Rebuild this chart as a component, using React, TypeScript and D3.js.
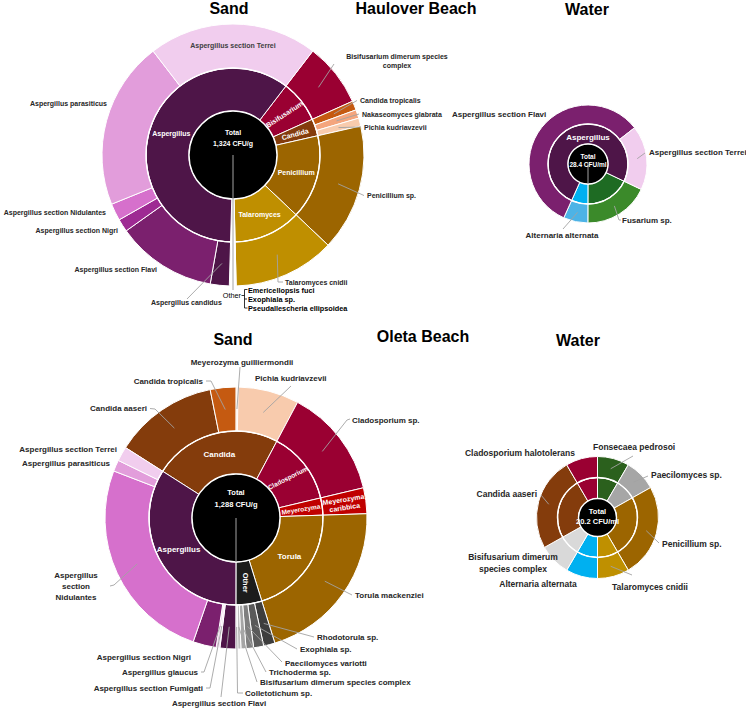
import React from "react";
import * as d3 from "d3";

const FONT = "'Liberation Sans', Arial, sans-serif";
const TAU = Math.PI * 2;

// ---------- Haulover Beach, sand (CFU/g) ----------
const hsGenera = ["Bisifusarium", "Candida", "Penicillium", "Talaromyces", "Other", "Aspergillus"];
const hsSpecies = [
  "Bisifusarium dimerum species complex",
  "Candida tropicalis",
  "Nakaseomyces glabrata",
  "Pichia kudriavzevii",
  "Penicillium sp.",
  "Talaromyces cnidii",
  "Emericellopsis fuci",
  "Exophiala sp.",
  "Pseudallescheria ellipsoidea",
  "Aspergillus candidus",
  "Aspergillus section Flavi",
  "Aspergillus section Nigri",
  "Aspergillus section Nidulantes",
  "Aspergillus parasiticus",
  "Aspergillus section Terrei",
];
const hsGenusOf = [
  "Bisifusarium", "Candida", "Candida", "Candida", "Penicillium", "Talaromyces",
  "Other", "Other", "Other",
  "Aspergillus", "Aspergillus", "Aspergillus", "Aspergillus", "Aspergillus", "Aspergillus",
];
const hsValues = [104, 15, 14, 13, 207, 166, 4, 4, 3, 31, 164, 21, 28, 274, 276];
const hsTotal = ["Total", "1,324 CFU/g"];

// ---------- Haulover Beach, water (CFU/ml) ----------
const hwGenera = ["Fusarium", "Alternaria", "Aspergillus"];
const hwSpecies = ["Fusarium sp.", "Alternaria alternata", "Aspergillus section Flavi", "Aspergillus section Terrei"];
const hwGenusOf = ["Fusarium", "Alternaria", "Aspergillus", "Aspergillus"];
const hwValues = [5.1, 1.9, 16.4, 5.0];
const hwTotal = ["Total", "28.4 CFU/ml"];

// ---------- Oleta Beach, sand (CFU/g) ----------
const osGenera = ["Candida", "Cladosporium", "Meyerozyma", "Torula", "Other", "Aspergillus"];
const osSpecies = [
  "Candida aaseri",
  "Candida tropicalis",
  "Meyerozyma guilliermondii",
  "Pichia kudriavzevii",
  "Cladosporium sp.",
  "Meyerozyma caribbica",
  "Torula mackenziei",
  "Rhodotorula sp.",
  "Exophiala sp.",
  "Paecilomyces variotti",
  "Trichoderma sp.",
  "Bisifusarium dimerum species complex",
  "Colletotichum sp.",
  "Aspergillus section Flavi",
  "Aspergillus section Fumigati",
  "Aspergillus glaucus",
  "Aspergillus section Nigri",
  "Aspergillus section Nidulantes",
  "Aspergillus parasiticus",
  "Aspergillus section Terrei",
];
const osGenusOf = [
  "Candida", "Candida", "Candida", "Candida", "Cladosporium", "Meyerozyma", "Torula",
  "Other", "Other", "Other", "Other", "Other", "Other",
  "Aspergillus", "Aspergillus", "Aspergillus", "Aspergillus", "Aspergillus", "Aspergillus", "Aspergillus",
];
const osValues = [165, 41, 3, 97, 174, 41, 267, 18, 16, 12, 8, 5, 3, 25, 3, 3, 37, 329, 18, 23];
const osTotal = ["Total", "1,288 CFU/g"];

// ---------- Oleta Beach, water (CFU/ml) ----------
const owGenera = ["Fonsecaea", "Paecilomyces", "Penicillium", "Talaromyces", "Alternaria", "Bisifusarium", "Candida", "Cladosporium"];
const owSpecies = [
  "Fonsecaea pedrosoi",
  "Paecilomyces sp.",
  "Penicillium sp.",
  "Talaromyces cnidii",
  "Alternaria alternata",
  "Bisifusarium dimerum species complex",
  "Candida aaseri",
  "Cladosporium halotolerans",
];
const owGenusOf = owGenera;
const owValues = [1.7, 1.7, 5.0, 1.7, 1.7, 1.7, 5.0, 1.7];
const owTotal = ["Total", "20.2 CFU/ml"];

// ---------- colours ----------
const PLUM = "#4e1548";
const hsGenusColors = ["#9a0032", "#843c0c", "#9c6500", "#bf8f00", "#ffffff", PLUM];
const hsSpeciesColors = [
  "#9a0032", "#c55a11", "#f4a57d", "#f8cbad", "#9c6500", "#bf8f00",
  "#ffffff", "#ffffff", "#ffffff",
  PLUM, "#7b206e", "#9e2a93", "#d670cc", "#e29ddb", "#f1cdee",
];
const hwGenusColors = ["#1e6b23", "#00b0f0", PLUM];
const hwSpeciesColors = ["#3b8a2a", "#4db3e6", "#7b206e", "#f1cdee"];
const osGenusColors = ["#843c0c", "#9a0032", "#c00000", "#9c6500", "#1c1c1c", PLUM];
const osSpeciesColors = [
  "#843c0c", "#c55a11", "#fbe5d6", "#f8cbad", "#9a0032", "#c00000", "#9c6500",
  "#3d3d3d", "#5a5a5a", "#7f7f7f", "#a6a6a6", "#bfbfbf", "#d9d9d9",
  PLUM, "#f3dcef", "#e7b8e0", "#7b206e", "#d670cc", "#e29ddb", "#f1cdee",
];
const owColors = ["#2b601d", "#a6a6a6", "#9c6500", "#bf9000", "#00b0f0", "#d9d9d9", "#843c0c", "#9a0032"];

type Pt = [number, number];
type Label = { key: string; lines?: string[]; x: number; y: number; anchor?: string; leader?: Pt[] };
type InLabel = { key: string; ring: "in" | "out"; lines?: string[]; rot?: number; size?: number; fill?: string; angle?: number; r?: number };

type SunProps = {
  cx: number; cy: number; r0: number; r1: number; r2: number; start: number;
  genera: string[]; species: string[]; genusOf: string[]; values: number[];
  genusColors: string[]; speciesColors: string[];
  labels: Label[]; inLabels: InLabel[]; fs: number;
  total: string[]; totalY: number[]; totalSize: number; stem?: number;
};

const LEADER = "#a3a3a3";
const INK = "#262626";

function Sunburst(p: SunProps) {
  const { cx, cy, r0, r1, r2 } = p;
  const a0 = (p.start * Math.PI) / 180;
  const pie = d3.pie<number>().sort(null).value((d) => d).startAngle(a0).endAngle(a0 + TAU);
  const outer = pie(p.values);
  const sums = p.genera.map((g) => d3.sum(p.values.filter((_, i) => p.genusOf[i] === g)));
  const inner = pie(sums);
  const arcIn = d3.arc<d3.PieArcDatum<number>>().innerRadius(r0).outerRadius(r1);
  const arcOut = d3.arc<d3.PieArcDatum<number>>().innerRadius(r1).outerRadius(r2);
  const line = d3.line();

  const outCentroid = (key: string): Pt => {
    const c = arcOut.centroid(outer[p.species.indexOf(key)]);
    return [cx + c[0], cy + c[1]];
  };

  return (
    <g>
      <g transform={`translate(${cx},${cy})`}>
        {inner.map((d, i) => (
          <path key={"i" + i} d={arcIn(d) || ""} fill={p.genusColors[i]} stroke="#fff" strokeWidth={1} />
        ))}
        {outer.map((d, i) => (
          <path key={"o" + i} d={arcOut(d) || ""} fill={p.speciesColors[i]} stroke="#fff" strokeWidth={1} />
        ))}
        <circle r={r1} fill="none" stroke="#fff" strokeWidth={1.4} />
        <circle r={r0} fill="#000" stroke="#fff" strokeWidth={1.4} />
        {p.stem !== undefined && <line x1={0} y1={0} x2={0} y2={p.stem - cy} stroke={LEADER} strokeWidth={1} />}
        {p.total.map((t, i) => (
          <text key={t} x={0} y={p.totalY[i]} textAnchor="middle" fill="#fff" fontWeight={700} fontSize={p.totalSize}>
            {t}
          </text>
        ))}
        {p.inLabels.map((l) => {
          const d = l.ring === "in" ? inner[p.genera.indexOf(l.key)] : outer[p.species.indexOf(l.key)];
          let c: Pt;
          if (l.angle !== undefined) {
            const a = (l.angle * Math.PI) / 180;
            const r = l.r ?? (r0 + r1) / 2;
            c = [r * Math.sin(a), -r * Math.cos(a)];
          } else {
            c = (l.ring === "in" ? arcIn : arcOut).centroid(d) as Pt;
          }
          const lines = l.lines ?? [l.key];
          const size = l.size ?? 7;
          const lh = size * 1.15;
          return (
            <g key={l.key} transform={`translate(${c[0]},${c[1]}) rotate(${l.rot ?? 0})`}>
              {lines.map((t, i) => (
                <text key={t} y={(i - (lines.length - 1) / 2) * lh} dy="0.35em" textAnchor="middle"
                  fill={l.fill ?? "#fff"} fontWeight={700} fontSize={size}>
                  {t}
                </text>
              ))}
            </g>
          );
        })}
      </g>
      {p.labels.map((l) => {
        const lines = l.lines ?? [l.key];
        return (
          <g key={l.key}>
            {l.leader && (
              <path d={line([outCentroid(l.key), ...l.leader]) || ""} fill="none" stroke={LEADER} strokeWidth={0.9} />
            )}
            {lines.map((t, i) => (
              <text key={t} x={l.x} y={l.y + i * p.fs * 1.4} textAnchor={l.anchor ?? "start"}
                fill={INK} fontWeight={700} fontSize={p.fs}>
                {t}
              </text>
            ))}
          </g>
        );
      })}
    </g>
  );
}

// label placement (layout only)
const hsLabels: Label[] = [
  { key: "Bisifusarium dimerum species complex", lines: ["Bisifusarium dimerum species", "complex"], x: 397, y: 58.5, anchor: "middle", leader: [[334, 64]] },
  { key: "Candida tropicalis", x: 360, y: 102.5, leader: [[357, 100.5]] },
  { key: "Nakaseomyces glabrata", x: 362, y: 116.5, leader: [[359, 114]] },
  { key: "Pichia kudriavzevii", x: 364, y: 129.5, leader: [[361, 127]] },
  { key: "Penicillium sp.", x: 367, y: 198, leader: [[364, 195.5]] },
  { key: "Talaromyces cnidii", x: 285, y: 284.5, leader: [[278, 282], [283, 282]] },
  { key: "Aspergillus candidus", x: 151, y: 305, leader: [[187, 299]] },
  { key: "Aspergillus section Flavi", x: 157, y: 271.5, anchor: "end" },
  { key: "Aspergillus section Nigri", x: 118, y: 232.5, anchor: "end" },
  { key: "Aspergillus section Nidulantes", x: 106, y: 214.5, anchor: "end" },
  { key: "Aspergillus parasiticus", x: 107, y: 105.5, anchor: "end" },
];
const hsIn: InLabel[] = [
  { key: "Aspergillus", ring: "in" },
  { key: "Bisifusarium", ring: "in", rot: -33 },
  { key: "Candida", ring: "in", rot: -15 },
  { key: "Penicillium", ring: "in" },
  { key: "Talaromyces", ring: "in" },
  { key: "Aspergillus section Terrei", ring: "out", fill: "#404040" },
];

const hwLabels: Label[] = [
  { key: "Aspergillus section Flavi", x: 452, y: 117 },
  { key: "Aspergillus section Terrei", x: 649, y: 155, leader: [[645, 153]] },
  { key: "Fusarium sp.", x: 622, y: 223, leader: [[619, 220], [621, 220]] },
  { key: "Alternaria alternata", x: 562, y: 238, anchor: "middle", leader: [[563, 229]] },
];
const hwIn: InLabel[] = [{ key: "Aspergillus", ring: "in", angle: 0, r: 27, size: 8 }];

const osLabels: Label[] = [
  { key: "Meyerozyma guilliermondii", x: 242, y: 365, anchor: "middle", leader: [[240, 367]] },
  { key: "Candida tropicalis", x: 203, y: 384, anchor: "end", leader: [[211, 381], [206, 381]] },
  { key: "Pichia kudriavzevii", x: 255, y: 381, leader: [[291, 386]] },
  { key: "Candida aaseri", x: 147, y: 411, anchor: "end", leader: [[155, 409], [150, 408.5]] },
  { key: "Cladosporium sp.", x: 352, y: 423, leader: [[347, 420], [350, 419]] },
  { key: "Aspergillus section Terrei", x: 117, y: 452, anchor: "end" },
  { key: "Aspergillus parasiticus", x: 110, y: 466, anchor: "end" },
  { key: "Aspergillus section Nidulantes", lines: ["Aspergillus", "section", "Nidulantes"], x: 76, y: 578, anchor: "middle", leader: [[114, 585], [110, 586]] },
  { key: "Torula mackenziei", x: 355, y: 598, leader: [[352, 595]] },
  { key: "Rhodotorula sp.", x: 317, y: 639.5, leader: [[314, 637]] },
  { key: "Exophiala sp.", x: 300, y: 652, leader: [[297, 649]] },
  { key: "Paecilomyces variotti", x: 285, y: 665.5, leader: [[282, 662]] },
  { key: "Trichoderma sp.", x: 269, y: 675, leader: [[266, 672]] },
  { key: "Bisifusarium dimerum species complex", x: 260, y: 684.5, leader: [[257, 682]] },
  { key: "Colletotichum sp.", x: 245, y: 696, leader: [[237.5, 693], [243, 693]] },
  { key: "Aspergillus section Flavi", x: 219, y: 706, anchor: "middle", leader: [[221, 697]] },
  { key: "Aspergillus section Fumigati", x: 203, y: 691, anchor: "end", leader: [[210, 688], [206, 688]] },
  { key: "Aspergillus glaucus", x: 198, y: 675, anchor: "end", leader: [[204, 672], [201, 672]] },
  { key: "Aspergillus section Nigri", x: 191, y: 660, anchor: "end" },
];
const osIn: InLabel[] = [
  { key: "Candida", ring: "in", size: 8 },
  { key: "Cladosporium", ring: "in", rot: -27, size: 6.5 },
  { key: "Meyerozyma", ring: "in", rot: -9, size: 6.5 },
  { key: "Torula", ring: "in", size: 8 },
  { key: "Other", ring: "in", rot: 90, size: 7.5 },
  { key: "Aspergillus", ring: "in", size: 8 },
  { key: "Meyerozyma caribbica", ring: "out", lines: ["Meyerozyma", "caribbica"], rot: -9, size: 7 },
];

const owLabels: Label[] = [
  { key: "Cladosporium halotolerans", x: 575, y: 456, anchor: "end" },
  { key: "Fonsecaea pedrosoi", x: 593, y: 450, leader: [[633, 456]] },
  { key: "Paecilomyces sp.", x: 651, y: 478, leader: [[648, 476]] },
  { key: "Candida aaseri", x: 537, y: 497, anchor: "end", leader: [[541, 495]] },
  { key: "Penicillium sp.", x: 662, y: 547, leader: [[659, 543]] },
  { key: "Bisifusarium dimerum species complex", lines: ["Bisifusarium dimerum", "species complex"], x: 513, y: 560, anchor: "middle" },
  { key: "Alternaria alternata", x: 538, y: 587, anchor: "middle" },
  { key: "Talaromyces cnidii", x: 612, y: 590, leader: [[632, 575]] },
];

function Title({ x, y, text }: { x: number; y: number; text: string }) {
  return (
    <text x={x} y={y} textAnchor="middle" fontWeight={700} fontSize={16} fill="#000">
      {text}
    </text>
  );
}

export default function App() {
  return (
    <svg width={746} height={710} fontFamily={FONT} style={{ position: "absolute", left: 0, top: 0, background: "#fff" }}>
      <Title x={229} y={13.5} text="Sand" />
      <Title x={416} y={13.5} text="Haulover Beach" />
      <Title x={587} y={15} text="Water" />
      <Title x={233} y={345} text="Sand" />
      <Title x={423} y={342} text="Oleta Beach" />
      <Title x={578} y={346} text="Water" />

      <Sunburst cx={233} cy={155} r0={44} r1={87} r2={131} start={37.5}
        genera={hsGenera} species={hsSpecies} genusOf={hsGenusOf} values={hsValues}
        genusColors={hsGenusColors} speciesColors={hsSpeciesColors}
        labels={hsLabels} inLabels={hsIn} fs={7}
        total={hsTotal} totalY={[-20, -9.5]} totalSize={7} stem={290} />

      {/* "Other" bracket for Haulover sand */}
      <g>
        <text x={241} y={297.5} textAnchor="end" fontSize={7.3} fill="#000">Other</text>
        <path d="M241.5,295.5H244.5M247.5,289.5H244.5V308H247.5M244.5,299H247" fill="none" stroke="#000" strokeWidth={0.8} />
        {["Emericellopsis fuci", "Exophiala sp.", "Pseudallescheria ellipsoidea"].map((t, i) => (
          <text key={t} x={248} y={292.5 + i * 9} fontSize={7.3} fontWeight={700} fill="#000">{t}</text>
        ))}
      </g>

      <Sunburst cx={588} cy={164} r0={20} r1={40} r2={59} start={115.5}
        genera={hwGenera} species={hwSpecies} genusOf={hwGenusOf} values={hwValues}
        genusColors={hwGenusColors} speciesColors={hwSpeciesColors}
        labels={hwLabels} inLabels={hwIn} fs={8}
        total={hwTotal} totalY={[-5, 2.5]} totalSize={6.5} stem={184} />

      <Sunburst cx={236} cy={518} r0={44} r1={87} r2={131} start={302.5}
        genera={osGenera} species={osSpecies} genusOf={osGenusOf} values={osValues}
        genusColors={osGenusColors} speciesColors={osSpeciesColors}
        labels={osLabels} inLabels={osIn} fs={8}
        total={osTotal} totalY={[-23.5, -11]} totalSize={7.5} stem={562} />

      <Sunburst cx={597.5} cy={517.5} r0={19} r1={40} r2={61} start={0}
        genera={owGenera} species={owSpecies} genusOf={owGenusOf} values={owValues}
        genusColors={owColors} speciesColors={owColors}
        labels={owLabels} inLabels={[]} fs={8.5}
        total={owTotal} totalY={[-3.8, 6]} totalSize={7.5} />
    </svg>
  );
}
